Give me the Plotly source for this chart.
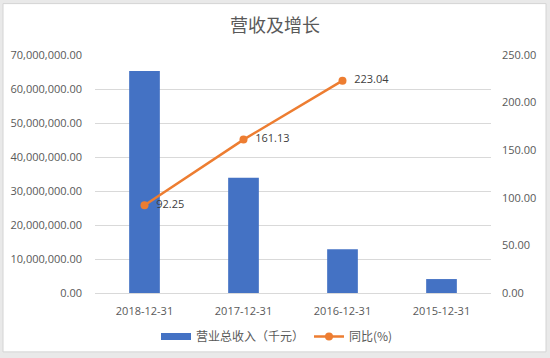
import plotly.graph_objects as go

categories = ["2018-12-31", "2017-12-31", "2016-12-31", "2015-12-31"]
revenue = [65300000, 33900000, 12850000, 4100000]
yoy_cats = ["2018-12-31", "2017-12-31", "2016-12-31"]
yoy = [92.25, 161.13, 223.04]
left_ticks = [0, 10000000, 20000000, 30000000, 40000000, 50000000, 60000000, 70000000]
right_ticks = [0, 50, 100, 150, 200, 250]

W, H = 550, 358
L, R, T, B = 95, 59, 54.5, 65
pw = W - L - R
ph = H - T - B

def px_x(p):
    return (p - L) / pw

def px_y(p):
    return (H - B - p) / ph

font_fam = "Open Sans, Noto Sans CJK SC, sans-serif"
tick_col = "#595959"
bar_col = "#4472C4"

fig = go.Figure()
fig.add_trace(go.Bar(
    x=categories, y=revenue, name="营业总收入（千元）",
    marker=dict(color=bar_col, line=dict(width=0)),
    yaxis="y", showlegend=False,
))
# legend-only entry giving the wide bar swatch
fig.add_trace(go.Scatter(
    x=[None], y=[None], name="营业总收入（千元）", mode="lines",
    line=dict(color=bar_col, width=7), yaxis="y", showlegend=True,
))
fig.add_trace(go.Scatter(
    x=yoy_cats, y=yoy, name="同比(%)", mode="lines+markers+text",
    line=dict(color="#ED7D31", width=2.5),
    marker=dict(color="#ED7D31", size=8),
    text=["  " + f"{v:.2f}" for v in yoy], textposition="middle right",
    textfont=dict(size=11, color="#404040", family=font_fam),
    yaxis="y2", cliponaxis=False,
))

fig.update_layout(
    width=W, height=H,
    margin=dict(l=L, r=R, t=T, b=B, autoexpand=False),
    paper_bgcolor="#e9e9e9",
    plot_bgcolor="rgba(0,0,0,0)",
    font=dict(family=font_fam, color=tick_col, size=11),
    title=dict(text="营收及增长", x=0.5, xref="container", y=1 - 26 / H, yref="container",
               xanchor="center", yanchor="middle",
               font=dict(size=18, color="#595959", family="Noto Sans CJK SC, sans-serif")),
    bargap=0.69,
    showlegend=True,
    legend=dict(orientation="h", xref="container", yref="container", x=277 / W, y=1 - 336.5 / H,
                xanchor="center", yanchor="middle",
                font=dict(size=12, color=tick_col, family="Noto Sans CJK SC, sans-serif"),
                bgcolor="rgba(0,0,0,0)", itemwidth=30, traceorder="normal"),
    xaxis=dict(type="category", showgrid=False, showline=True, linecolor="#d9d9d9", linewidth=1,
               automargin=False,
               ticks="", ticklabelstandoff=8, tickfont=dict(size=11, color=tick_col)),
    yaxis=dict(range=[0, 70000000], tickvals=left_ticks, tickformat=",.2f", automargin=False,
               showgrid=True, gridcolor="#d9d9d9", gridwidth=1, zeroline=False,
               showline=False, ticks="", ticklabelstandoff=12, tickfont=dict(size=11, color=tick_col)),
    yaxis2=dict(range=[0, 250], tickvals=right_ticks, tickformat=".2f", overlaying="y", side="right",
                automargin=False,
                showgrid=False, zeroline=False, showline=False, ticks="", ticklabelstandoff=10,
                tickfont=dict(size=11, color=tick_col)),
    shapes=[dict(type="rect", xref="paper", yref="paper", layer="below",
                 x0=px_x(3), x1=px_x(546), y0=px_y(352), y1=px_y(3),
                 fillcolor="white", line=dict(color="#d4d4d4", width=1))],
)

fig.write_html("out.html", config={"displayModeBar": False},
               post_script="document.body.style.margin='0';document.body.style.overflow='hidden';")
